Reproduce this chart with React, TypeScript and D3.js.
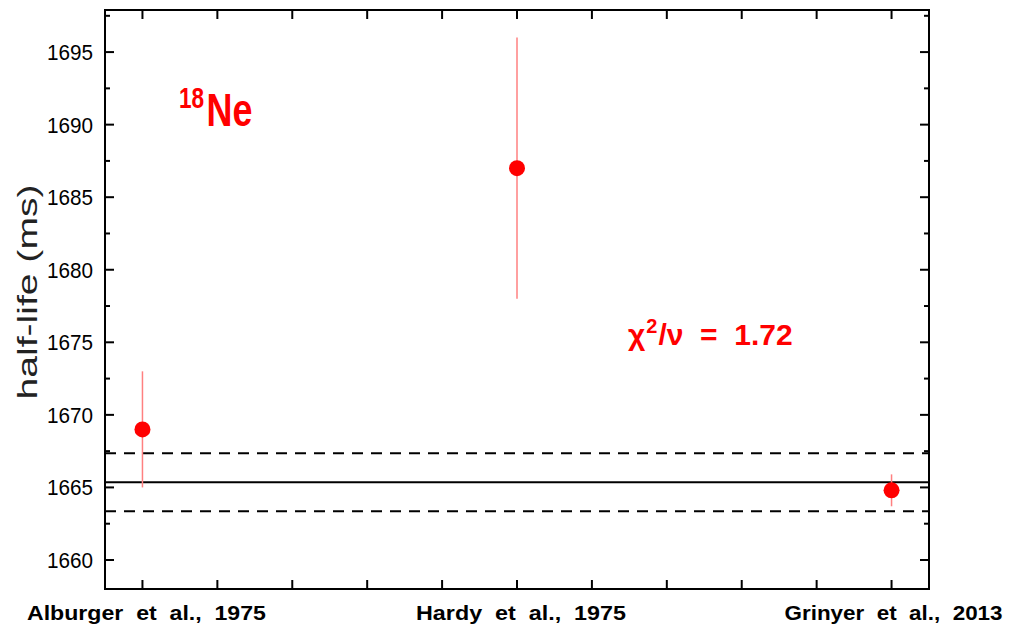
import React from "react";
import * as d3 from "d3";

const categories = ["Alburger et al., 1975", "Hardy et al., 1975", "Grinyer et al., 2013"];
const positions = [0, 5, 10];
const halfLife = [1669, 1687, 1664.8];
const errors = [4, 9, 1.1];
const meanValue = 1665.35;
const meanError = 2.0;
const yMajorTicks = [1660, 1665, 1670, 1675, 1680, 1685, 1690, 1695];
const yMinorTicks = [1662.5, 1667.5, 1672.5, 1677.5, 1682.5, 1687.5, 1692.5, 1697.5];
const xTicks = [0, 1, 2, 3, 4, 5, 6, 7, 8, 9, 10];
const labelWidths = [239, 210, 218];
const labelOffsets = [4, 4, 2];

const W = 1010;
const H = 626;
const L = 105, R = 929, T = 10, B = 589;

export default function App() {
  const x = d3.scaleLinear().domain([-0.5, 10.5]).range([L, R]);
  const y = d3.scaleLinear().domain([1658, 1697.9]).range([B, T]);
  const red = "#ff0000";
  const font = "'Liberation Sans', Arial, sans-serif";
  return (
    <svg width={W} height={H} style={{ position: "absolute", left: 0, top: 0, background: "#fff" }}>
      <rect x={0} y={0} width={W} height={H} fill="#fff" />
      {/* mean lines */}
      <line x1={L} x2={R} y1={y(meanValue)} y2={y(meanValue)} stroke="#000" strokeWidth={2} />
      <line x1={L} x2={R} y1={y(meanValue + meanError)} y2={y(meanValue + meanError)} stroke="#000" strokeWidth={2} strokeDasharray="11,8" />
      <line x1={L} x2={R} y1={y(meanValue - meanError)} y2={y(meanValue - meanError)} stroke="#000" strokeWidth={2} strokeDasharray="11,8" />
      {/* error bars and points */}
      {positions.map((p, i) => (
        <g key={i}>
          <line x1={x(p)} x2={x(p)} y1={y(halfLife[i] + errors[i])} y2={y(halfLife[i] - errors[i])} stroke="#ff8080" strokeWidth={1.5} />
          <circle cx={x(p)} cy={y(halfLife[i])} r={8} fill={red} />
        </g>
      ))}
      {/* frame */}
      <rect x={L} y={T} width={R - L} height={B - T} fill="none" stroke="#000" strokeWidth={2} />
      {/* x ticks */}
      {xTicks.map((t) => (
        <g key={"x" + t}>
          <line x1={x(t)} x2={x(t)} y1={B} y2={B - 9} stroke="#000" strokeWidth={2} />
          <line x1={x(t)} x2={x(t)} y1={T} y2={T + 9} stroke="#000" strokeWidth={2} />
        </g>
      ))}
      {/* y ticks */}
      {yMajorTicks.map((t) => (
        <g key={"y" + t}>
          <line x1={L} x2={L + 9} y1={y(t)} y2={y(t)} stroke="#000" strokeWidth={2} />
          <line x1={R} x2={R - 9} y1={y(t)} y2={y(t)} stroke="#000" strokeWidth={2} />
          <text x={47} y={y(t) + 8} fontFamily={font} fontSize={22.5} fill="#000"
            textLength={46} lengthAdjust="spacingAndGlyphs">{t}</text>
        </g>
      ))}
      {yMinorTicks.map((t) => (
        <g key={"ym" + t}>
          <line x1={L} x2={L + 5} y1={y(t)} y2={y(t)} stroke="#000" strokeWidth={2} />
          <line x1={R} x2={R - 5} y1={y(t)} y2={y(t)} stroke="#000" strokeWidth={2} />
        </g>
      ))}
      {/* x category labels */}
      {categories.map((c, i) => (
        <text key={c} x={x(positions[i]) - labelWidths[i] / 2 + labelOffsets[i]} y={620} fontFamily={font} fontWeight="bold" fontSize={21}
          textLength={labelWidths[i]} lengthAdjust="spacingAndGlyphs" fill="#000" style={{ whiteSpace: "pre" }}>
          {c.replace(/ /g, "  ")}
        </text>
      ))}
      {/* y axis label */}
      <text transform="translate(37,292) rotate(-90)" textAnchor="middle" fontFamily={font} fontSize={28} fill="#222"
        textLength={215} lengthAdjust="spacingAndGlyphs">half-life (ms)</text>
      {/* 18Ne */}
      <text transform="translate(179,126) scale(0.78,1)" fontFamily={font} fontWeight="bold" fill={red}>
        <tspan fontSize={29} dy={-18}>18</tspan>
        <tspan fontSize={46} dy={18} dx={3}>Ne</tspan>
      </text>
      {/* chi2 */}
      <text x={628} y={345} fontFamily={font} fontWeight="bold" fontSize={30} fill={red} style={{ whiteSpace: "pre" }}>
        <tspan>χ</tspan>
        <tspan fontSize={20} dy={-12} dx={1}>2</tspan>
        <tspan dy={12} dx={1}>/ν  =  1.72</tspan>
      </text>
    </svg>
  );
}
